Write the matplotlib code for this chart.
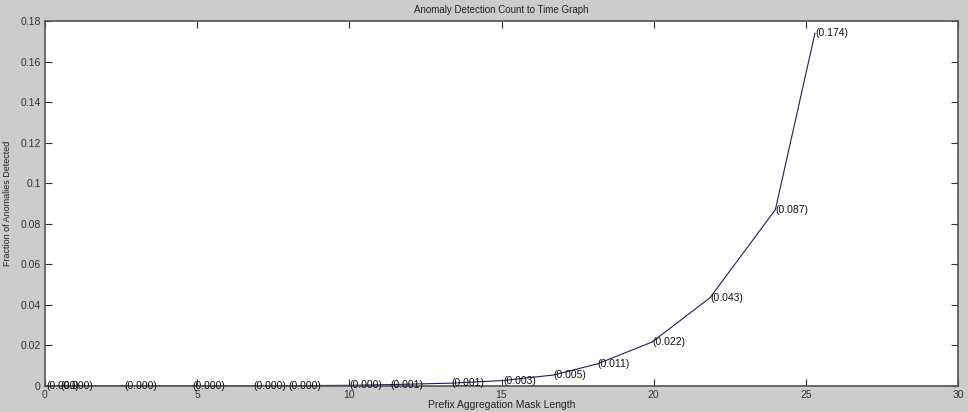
import matplotlib
matplotlib.use("Agg")
import matplotlib.pyplot as plt

mask_length = [0.05, 0.5, 2.6, 4.85, 6.85, 8.0, 10.0, 11.35, 13.35, 15.05,
               16.7, 18.15, 19.95, 21.85, 24.0, 25.3]
fraction = [0.000005, 0.00001, 0.00002, 0.00004, 0.00008, 0.00017, 0.00034,
            0.0007, 0.0014, 0.0027, 0.0054, 0.0109, 0.0217, 0.0435, 0.087, 0.174]
x_ticks = [0, 5, 10, 15, 20, 25, 30]
y_ticks = [0, 0.02, 0.04, 0.06, 0.08, 0.1, 0.12, 0.14, 0.16, 0.18]
y_tick_labels = ["0", "0.02", "0.04", "0.06", "0.08", "0.1", "0.12", "0.14", "0.16", "0.18"]

plt.rcParams['font.family'] = ['Liberation Sans', 'DejaVu Sans']

fig = plt.figure(figsize=(9.68, 4.12), dpi=100, facecolor='#cccccc')
ax = fig.add_axes([45/968, 1 - 386/412, 913/968, 365/412])
ax.set_facecolor('white')

ax.plot(mask_length, fraction, color='#1c1c6a', linewidth=0.8)
for xv, yv in zip(mask_length, fraction):
    ax.text(xv, yv, "(%.3f)" % yv, fontsize=7.5, ha='left', va='center', color='#111111')

ax.set_xlim(0, 30)
ax.set_ylim(0, 0.18)
ax.set_xticks(x_ticks)
ax.set_yticks(y_ticks)
ax.set_yticklabels(y_tick_labels)
ax.tick_params(direction='in', length=5, width=0.8, labelsize=7.5, colors='#333333',
               top=True, right=True, pad=3)
for s in ax.spines.values():
    s.set_color('#555555')
    s.set_linewidth(1.2)

ax.set_title("Anomaly Detection Count to Time Graph", fontsize=7, pad=6, color='#222222')
ax.set_xlabel("Prefix Aggregation Mask Length", fontsize=7.5, labelpad=0, color='#222222')
ax.set_ylabel("Fraction of Anomalies Detected", fontsize=6.5, labelpad=6, color='#222222')

fig.savefig("out.png", dpi=100, facecolor=fig.get_facecolor())
